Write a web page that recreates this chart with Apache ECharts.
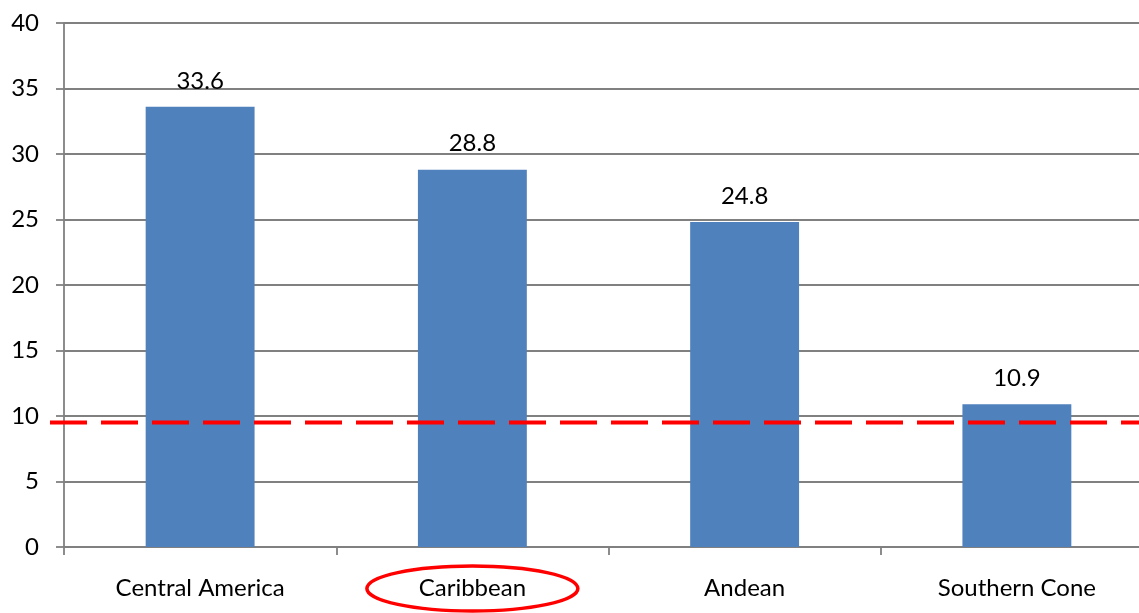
<!DOCTYPE html>
<html>
<head>
<meta charset="utf-8">
<title>Regional bar chart</title>
<script src="https://cdn.jsdelivr.net/npm/echarts@6/dist/echarts.min.js"></script>
<style>
  html, body { margin: 0; padding: 0; background: #ffffff; }
  #chart { width: 1139px; height: 613px; }
</style>
</head>
<body>
<div id="chart"></div>
<script>
// Regions and their values
const categories = ['Central America', 'Caribbean', 'Andean', 'Southern Cone'];
const values = [33.6, 28.8, 24.8, 10.9];
// Reference level drawn as a dashed red line
const referenceLevel = 9.5;
// Value axis range and step
const yMin = 0, yMax = 40, yStep = 5;
// Category that gets circled
const highlighted = 'Caribbean';

const FONT = 'Lato';
const chart = echarts.init(document.getElementById('chart'), null, { renderer: 'canvas' });

const option = {
  animation: false,
  backgroundColor: '#ffffff',
  textStyle: { fontFamily: FONT },
  grid: [
    { left: 64, top: 23, right: -14, bottom: 66, containLabel: false, outerBoundsMode: 'none' },
    { left: 50, top: 23, right: 0, bottom: 66, containLabel: false, outerBoundsMode: 'none' }
  ],
  xAxis: [
    {
      type: 'category',
      gridIndex: 0,
      data: categories,
      axisLine: { show: true, lineStyle: { color: '#808080', width: 1.8 } },
      axisTick: { show: true, length: 8, lineStyle: { color: '#808080', width: 1.8 } },
      axisLabel: { color: '#000000', fontSize: 24, fontFamily: FONT, margin: 29 },
      splitLine: { show: false }
    },
    { type: 'value', gridIndex: 1, min: 0, max: 1, show: false }
  ],
  yAxis: [
    {
      type: 'value',
      gridIndex: 0,
      min: yMin, max: yMax, interval: yStep,
      axisLine: { show: true, lineStyle: { color: '#808080', width: 1.8 } },
      axisTick: { show: true, length: 8, lineStyle: { color: '#808080', width: 1.8 } },
      axisLabel: { color: '#000000', fontSize: 24, fontFamily: FONT, margin: 25 },
      splitLine: { show: true, lineStyle: { color: '#808080', width: 1.8 } }
    },
    { type: 'value', gridIndex: 1, min: yMin, max: yMax, show: false }
  ],
  series: [
    {
      type: 'bar',
      xAxisIndex: 0, yAxisIndex: 0,
      data: values,
      barWidth: '40%',
      itemStyle: { color: '#4F81BD' },
      label: {
        show: true, position: 'top', distance: 14,
        color: '#000000', fontSize: 24, fontFamily: FONT,
        formatter: p => p.value.toFixed(1)
      },
      z: 2
    },
    {
      type: 'line',
      xAxisIndex: 1, yAxisIndex: 1,
      data: [[0, referenceLevel], [1, referenceLevel]],
      symbol: 'none',
      lineStyle: { color: '#FF0000', width: 4, type: [37, 14] },
      z: 5
    }
  ]
};

chart.setOption(option);

// Red ellipse circling the highlighted category label
const cx = chart.convertToPixel({ xAxisIndex: 0 }, highlighted);
const baseY = chart.convertToPixel({ yAxisIndex: 0 }, 0);
chart.setOption({
  graphic: [{
    type: 'ellipse',
    shape: { cx: cx, cy: baseY + 41.5, rx: 105.5, ry: 22.5 },
    style: { fill: 'none', stroke: '#FF0000', lineWidth: 3.5 },
    z: 10
  }]
});
</script>
</body>
</html>
